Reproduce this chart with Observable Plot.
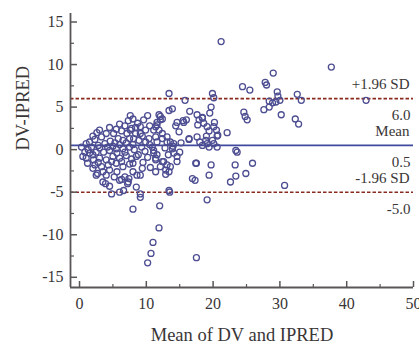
<!DOCTYPE html>
<html><head><meta charset="utf-8">
<script src="https://cdn.jsdelivr.net/npm/d3@7"></script>
<script src="https://cdn.jsdelivr.net/npm/@observablehq/plot@0.6"></script>
<style>html,body{margin:0;padding:0;background:#fff;}</style>
</head><body><div id="chart"></div>
<script>
// Mean of DV and IPRED (x) and DV-IPRED difference (y)
const meanDVIPRED = [
21.2,37.7,29.0,27.8,28.0,24.4,25.5,29.6,29.7,32.6,33.2,42.9,19.9,20.1,28.4,28.9,29.4,30.0,27.6,28.4,30.2,32.3,32.8,19.7,19.5,24.6,24.8,25.1,22.1,18.4,18.6,20.2,20.5,20.6,20.1,19.1,19.4,19.0,18.9,19.9,20.1,18.4,19.4,23.4,23.6,19.7,23.3,25.9,30.7,
13.4,15.8,13.9,13.4,16.5,17.6,18.4,17.9,16.0,15.6,14.4,17.7,20.7,17.6,18.0,16.4,19.1,20.6,17.5,
16.9,19.4,22.6,23.4,24.9,13.5,19.1,12.0,11.9,11.0,10.7,10.2,17.5,9.1,9.1,8.0,13.4,17.3,
11.9,12.1,11.6,11.1,12.4,11.4,10.4,9.1,13.1,13.6,14.1,13.9,14.6,14.1,10.9,11.1,11.4,12.6,12.1,14.9,12.1,12.4,11.6,11.4,11.9,12.4,13.1,11.6,14.0,14.6,15.5,16.4,8.7,9.1,9.9,7.6,8.4,9.4,8.1,8.9,9.9,11.1,11.6,11.4,12.4,12.9,13.1,13.6,14.6,17.4,11.4,12.9,9.1,13.4,9.8,10.2,9.5,10.6,8.8,9.3,10.5,12.8,13.3,15.2,15.0,
7.3,7.8,6.3,7.1,5.1,4.0,3.3,2.3,1.0,0.3,5.8,6.5,7.5,1.8,2.8,3.8,4.6,5.3,0.8,1.5,2.5,3.6,4.5,5.5,6.5,7.5,8.2,1.0,2.1,3.0,4.0,5.0,6.0,7.0,2.3,3.3,4.3,5.5,6.5,7.5,3.5,4.5,5.6,4.0,6.8,7.3,6.0,3.5,2.5,8.0,8.0,4.5,4.8,6.0,6.6,6.3,8.5,2.7,3.9,7.2,7.4,
1.5,2.0,3.0,4.2,5.0,6.0,7.0,8.0,0.5,1.2,2.8,4.8,6.3,7.8,8.5,2.0,3.0,4.5,5.5,6.0,6.8,8.0,7.6,8.4,9.6,10.5,10.2,9.4,8.6,5.2,2.0,1.3,2.6,5.6,6.8
];
const diffDVIPRED = [
12.7,9.7,9.0,7.9,7.6,7.4,7.0,6.8,6.3,6.5,5.8,5.8,6.6,6.1,5.7,5.5,5.6,5.8,4.7,5.0,4.1,3.6,3.0,5.0,4.3,4.4,3.9,3.5,2.0,3.7,3.1,3.2,2.3,1.6,2.7,2.7,2.2,1.6,1.1,1.1,0.7,0.5,0.3,-0.1,-0.3,-1.8,-1.8,-1.6,-4.2,
6.6,5.8,4.8,4.6,4.5,4.1,3.8,3.5,3.5,3.2,2.8,2.9,1.7,1.5,0.9,1.3,0.7,0.3,-1.6,
-3.4,-3.0,-3.8,-3.1,-2.8,-5.0,-5.9,-6.6,-9.2,-10.9,-12.2,-13.3,-12.7,-5.2,-5.6,-7.0,-4.8,-3.6,
4.1,3.5,2.9,2.3,1.9,1.5,1.3,1.9,1.5,0.9,0.7,0.1,-0.8,-0.4,0.3,-0.4,-1.0,-1.4,-2.0,2.1,3.9,3.6,3.2,2.7,2.3,1.3,0.9,0.9,0.4,3.2,3.4,1.2,3.1,2.7,2.3,2.3,1.9,1.6,1.3,1.1,0.9,-0.1,-0.6,-1.2,-1.4,-2.4,-1.8,-2.0,-1.4,-1.6,-2.6,-2.9,-3.0,-2.6,-0.2,-0.9,-1.5,-2.1,-0.6,0.3,0.6,0.2,-0.6,0.8,-0.3,
3.4,2.5,2.2,1.9,1.9,1.9,1.5,1.2,0.7,0.3,1.3,1.1,1.3,0.3,0.5,0.7,1.0,0.8,-0.3,-0.4,-0.3,-0.3,-0.1,0.1,0.1,0.3,0.0,-1.0,-1.2,-1.0,-1.2,-0.8,-1.0,-0.7,-1.8,-2.0,-1.8,-1.6,-2.0,-1.7,-2.6,-2.4,-2.6,-3.0,-3.2,-3.8,-3.6,-3.8,-3.0,-2.6,-1.6,-4.3,-5.2,-5.0,-4.8,-3.5,-4.4,-2.8,-4.0,-4.0,-3.4,
0.9,-0.6,0.2,0.3,0.4,0.6,0.8,0.6,-0.8,-1.6,-1.5,-1.4,-1.4,-1.1,-0.8,1.6,2.3,2.6,2.4,3.0,2.8,3.6,4.0,2.6,3.5,2.8,4.0,-2.2,-3.0,-3.2,-2.2,0.0,2.0,-0.4,-0.3
];
// Reference lines
const limitNames = ["+1.96 SD", "Mean", "-1.96 SD"];
const limitValues = [6.0, 0.5, -5.0];
// Axes
const xDomain = [-1.35, 50];
const yDomain = [-16.2, 16];
const xMajorTicks = [0, 10, 20, 30, 40, 50];
const xMinorTicks = [5, 15, 25, 35, 45];
const yMajorTicks = [-15, -10, -5, 0, 5, 10, 15];
const yMinorTicks = [-12.5, -7.5, -2.5, 2.5, 7.5, 12.5];
const xTitle = "Mean of DV and IPRED";
const yTitle = "DV-IPRED";

const points = meanDVIPRED.map((m, i) => ({m, d: diffDVIPRED[i]}));
const limits = limitNames.map((name, i) => ({name, value: limitValues[i]}));

const W = 419, H = 343;
const mL = 70, mR = 6, mT = 13, mB = 56;
const innerW = W - mL - mR, innerH = H - mT - mB;
const serif = "'Liberation Serif', 'Times New Roman', serif";
const axisColor = "#5a5656";
const textColor = "#3a3636";

const chart = Plot.plot({
  width: W, height: H,
  marginLeft: mL, marginRight: mR, marginTop: mT, marginBottom: mB,
  style: {fontFamily: serif, background: "#fff", color: textColor, overflow: "visible"},
  x: {domain: xDomain},
  y: {domain: yDomain},
  marks: [
    // limits of agreement (dashed) and mean (solid)
    Plot.ruleY(limits.filter(d => d.name !== "Mean"), {y: "value", stroke: "#8a2a1e", strokeWidth: 1.6, strokeDasharray: "3.5,2"}),
    Plot.ruleY(limits.filter(d => d.name === "Mean"), {y: "value", stroke: "#3f4a9e", strokeWidth: 1.6}),
    Plot.dot(points, {x: "m", y: "d", r: 3, stroke: "#4d4d92", strokeWidth: 1.3, fill: "none"}),
    // labels at right
    Plot.text(limits, {x: () => xDomain[1], y: "value", text: "name", textAnchor: "end", dx: -4, dy: -14, fontSize: 15, fill: textColor}),
    Plot.text(limits, {x: () => xDomain[1], y: "value", text: d => d.value.toFixed(1), textAnchor: "end", dx: -3, dy: 17, fontSize: 15, fill: textColor}),
    // axis lines
    Plot.ruleX([xDomain[0]], {stroke: axisColor, strokeWidth: 1.8}),
    Plot.ruleY([yDomain[0]], {stroke: axisColor, strokeWidth: 1.8}),
    // inward ticks
    Plot.tickY(yMajorTicks, {y: d => d, insetRight: innerW - 7, stroke: axisColor, strokeWidth: 1.5}),
    Plot.tickY(yMinorTicks, {y: d => d, insetRight: innerW - 4, stroke: axisColor, strokeWidth: 1.2}),
    Plot.tickX(xMajorTicks, {x: d => d, insetTop: innerH - 6, stroke: axisColor, strokeWidth: 1.5}),
    Plot.tickX(xMinorTicks, {x: d => d, insetTop: innerH - 3, stroke: axisColor, strokeWidth: 1.2}),
    // tick labels
    Plot.axisY({ticks: yMajorTicks, tickSize: 0, tickPadding: 7, tickFormat: d => String(d), fontSize: 16, label: null, fill: textColor}),
    Plot.axisX({ticks: xMajorTicks, tickSize: 0, tickPadding: 10, tickFormat: d => String(d), fontSize: 16, label: null, fill: textColor}),
    // axis titles
    Plot.text([xTitle], {frameAnchor: "bottom", text: d => d, dy: 53, lineAnchor: "bottom", fontSize: 18.5, fill: textColor}),
    Plot.text([yTitle], {frameAnchor: "left", text: d => d, rotate: -90, dx: -47, fontSize: 18.5, fill: textColor})
  ]
});
document.getElementById("chart").appendChild(chart);
</script>
</body></html>
